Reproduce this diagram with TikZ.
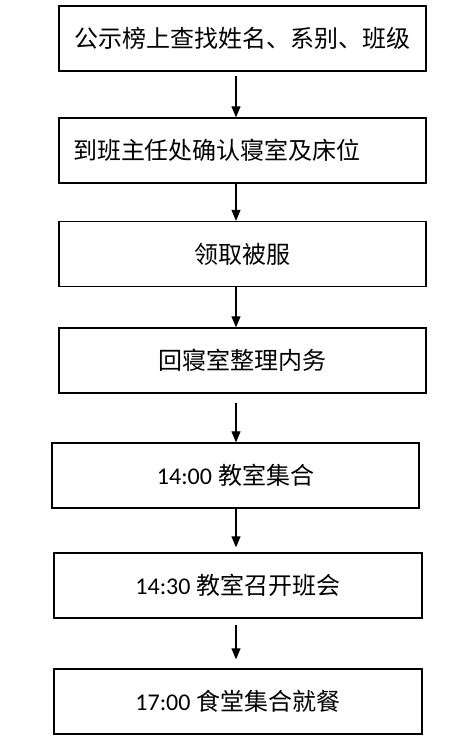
\documentclass[tikz,border=0pt]{standalone}
\usepackage{fontspec}
\setmainfont{Carlito}
\newfontfamily\cjk{Noto Sans CJK SC}
\usepackage{tikz}
\usetikzlibrary{arrows.meta}

\tikzset{
  stepbox/.style={draw,line width=1.3pt,minimum width=367pt,minimum height=65pt,inner sep=0pt,font=\fontsize{24}{29}\selectfont},
  flow/.style={line width=1.1pt,-{Triangle[width=9pt,length=11pt]}}
}

\begin{document}
\begin{tikzpicture}[x=1pt,y=-1pt]
  \useasboundingbox (0,0) rectangle (474,745);
  \node[stepbox] (s1) at (242.5,38.5) {\cjk 公示榜上查找姓名、系别、班级};
  \node[stepbox,text width=339pt,inner xsep=14pt,align=left] (s2) at (242.5,150.5) {\cjk 到班主任处确认寝室及床位};
  \node[stepbox] (s3) at (242.5,254) {\cjk 领取被服};
  \node[stepbox] (s4) at (242.5,360.5) {\cjk 回寝室整理内务};
  \node[stepbox] (s5) at (235.5,475.5) {14:00\hspace{6pt}{\cjk 教室集合}};
  \node[stepbox,minimum width=368pt] (s6) at (238,585.5) {14:30\hspace{6pt}{\cjk 教室召开班会}};
  \node[stepbox,minimum width=368pt] (s7) at (238,701.5) {17:00\hspace{6pt}{\cjk 食堂集合就餐}};
  \coordinate (ax) at (236,0);
  % arrows between the steps (gap above, gap below)
  \foreach \a/\b/\g/\h in {s1/s2/4/0,s2/s3/0/0,s3/s4/0/0,s4/s5/9/0,s5/s6/0/5,s6/s7/6/9}
    \draw[flow,shorten <=\g pt,shorten >=\h pt] (\a.south -| ax) -- (\b.north -| ax);
\end{tikzpicture}
\end{document}
